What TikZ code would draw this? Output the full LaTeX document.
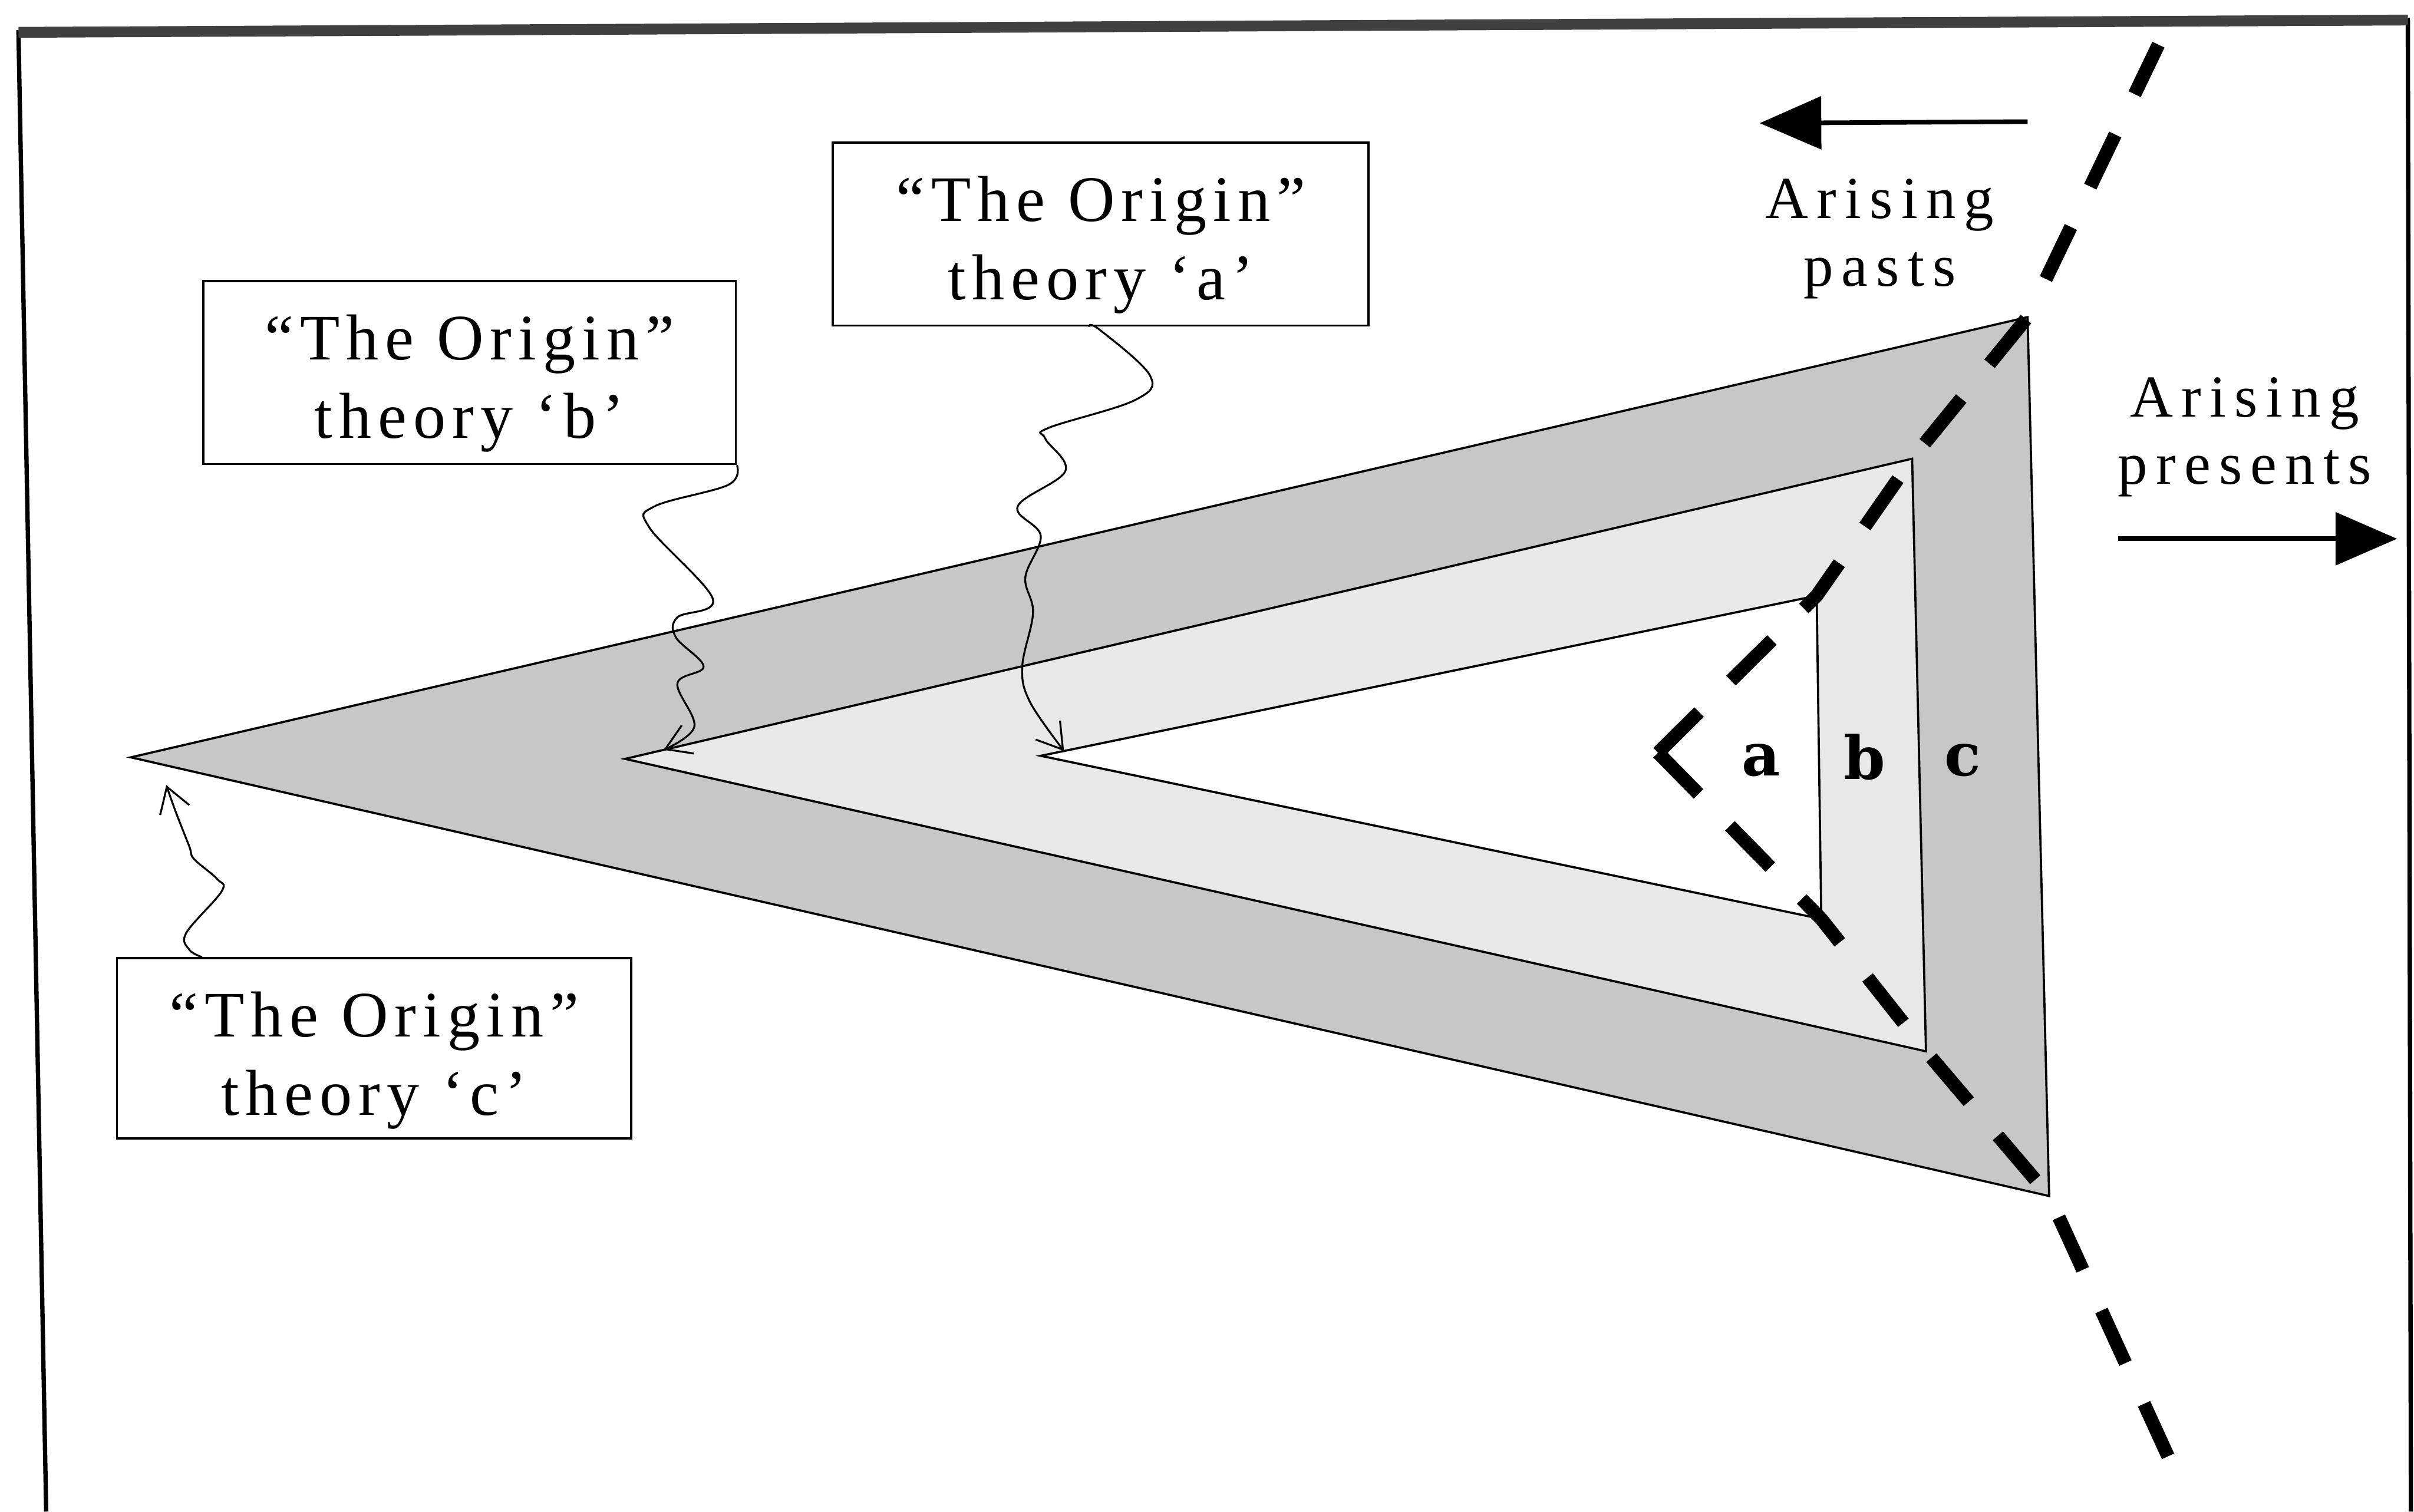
\documentclass[tikz,border=0pt]{standalone}
\usepackage{fontspec}
\setmainfont{Liberation Serif}
\newfontfamily\spacedfont[LetterSpace=10]{Liberation Serif}
\newfontfamily\arisefont[LetterSpace=14]{Liberation Serif}
\newfontfamily\bandfont{DejaVu Serif}
\usetikzlibrary{calc}
\usetikzlibrary{arrows.meta}
\tikzset{
  theory/.style={draw, line width=0.4pt, inner sep=0pt,
    minimum width=3.46cm, minimum height=1.19cm},
  origintext/.style={inner sep=0pt, align=center,
    font=\fontsize{12}{14.5}\selectfont\spacedfont},
  arising/.style={align=center, inner sep=0pt,
    font=\fontsize{11}{12.5}\selectfont\arisefont},
  band/.style={inner sep=0pt, font=\fontsize{11}{13}\selectfont\bandfont\bfseries},
  tri/.style={line width=0.4pt},
  wiggle/.style={line width=0.35pt, -{Straight Barb[length=1.6mm, width=2mm]}},
  bigarrow/.style={line width=0.85pt, -{Triangle[length=4mm, width=3.4mm]}},
  divide/.style={line width=2.5pt, dash pattern=on 3.75mm off 2.91mm},
}
\begin{document}
\begin{tikzpicture}[x=0.1mm, y=-0.1mm]
\useasboundingbox (0,0) rectangle (1568,982);
\draw[line width=0.8pt] (30,982) -- (12,21) -- (1564,13) -- (1566,982);
\draw[line width=2pt, black!75] (12,21) -- (1564,13);

\coordinate (c1) at (85,492);
\coordinate (c2) at (1317,206);
\coordinate (c3) at (1331,777);
\coordinate (b1) at (406,493);
\coordinate (b2) at (1242,298);
\coordinate (b3) at (1251,683);
\coordinate (a1) at (676,491);
\coordinate (a2) at (1180,387);
\coordinate (a3) at (1183,597);

\draw[tri, fill=black!22] (c1) -- (c2) -- (c3) -- cycle;
\draw[tri, fill=black!9] (b1) -- (b2) -- (b3) -- cycle;
\draw[tri, fill=white] (a1) -- (a2) -- (a3) -- cycle;

\coordinate (vtx) at (1077,489);
\coordinate (dtop) at (1402,29);
\coordinate (dbot) at (1410,950);
\draw[divide] (vtx) -- (a2) -- (b2) -- (c2) -- (dtop);
\draw[divide] (vtx) -- (a3) -- (b3) -- (c3) -- (dbot);

\node[band] (la) at (1144,494) {a};
\node[band] (lb) at (1211,492) {b};
\node[band] (lc) at (1275,494) {c};

\node[arising] (past) at (1221,155) {Arising\\pasts};
\node[arising] (pres) at (1458,284) {Arising\\presents};
\coordinate (pt) at (1317,79);
\coordinate (ph) at (1143,80);
\coordinate (rt) at (1376,350);
\coordinate (rh) at (1557,350);
\draw[bigarrow] (pt) -- (ph);
\draw[bigarrow] (rt) -- (rh);

\node[theory, minimum width=3.48cm] (boxa) at (715,152) {};
\node[theory] (boxb) at (305,242) {};
\node[theory, minimum width=3.34cm, minimum height=1.17cm] (boxc) at (243,681) {};
\node[origintext] (txta) at ($(boxa)+(0,7)$) {“The Origin”\\theory ‘a’};
\node[origintext] (txtb) at ($(boxb)+(0,7)$) {“The Origin”\\theory ‘b’};
\node[origintext] (txtc) at ($(boxc)+(0,8)$) {“The Origin”\\theory ‘c’};

\coordinate (enda) at ($(a1)!0.03!(a2)$);
\coordinate (endb) at ($(b1)!0.03!(b2)$);
\coordinate (endc) at (108,510);
\draw[wiggle] plot[smooth, tension=0.6] coordinates {($(boxa.south)+(-8,0)$) (714,214) (747,244) (737,260) (681,278) (679,285) (692,306) (661,329) (676,348) (666,375) (671,398) (664,433) (669,456) (enda)};
\draw[wiggle] plot[smooth, tension=0.6] coordinates {(boxb.south east) (473,315) (425,329) (422,343) (463,389) (440,401) (439,414) (457,433) (440,444) (451,472) (endb)};
\draw[wiggle] plot[smooth, tension=0.6] coordinates {($(boxc.north west)+(56,0)$) (123,617) (121,606) (144,579) (141,571) (126,558) (123,550) (114,527) (endc)};
\end{tikzpicture}
\end{document}
